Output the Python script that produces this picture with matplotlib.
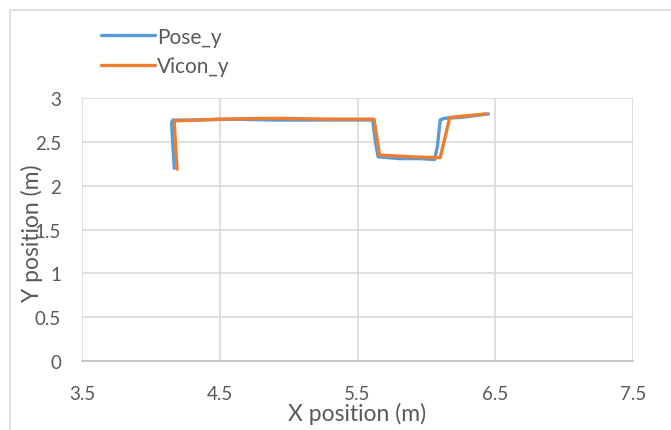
import matplotlib.pyplot as plt
from matplotlib.lines import Line2D

plt.rcParams['font.family'] = ['Lato', 'DejaVu Sans']

# trajectory (metres)
pose_x = [4.17, 4.16, 4.15, 4.16, 4.30, 4.60, 4.90, 5.20, 5.45, 5.61, 5.63, 5.65, 5.80, 5.95, 6.06, 6.08, 6.10, 6.13, 6.25, 6.35, 6.45]
pose_y = [2.20, 2.45, 2.72, 2.75, 2.75, 2.76, 2.75, 2.75, 2.75, 2.75, 2.50, 2.33, 2.31, 2.31, 2.30, 2.45, 2.75, 2.77, 2.78, 2.80, 2.82]
vicon_x = [4.19, 4.18, 4.17, 4.17, 4.50, 4.90, 5.30, 5.62, 5.66, 5.90, 6.10, 6.17, 6.30, 6.43]
vicon_y = [2.19, 2.45, 2.72, 2.74, 2.76, 2.77, 2.76, 2.76, 2.35, 2.33, 2.32, 2.78, 2.80, 2.82]

fig = plt.figure(figsize=(6.71, 4.31), dpi=100)
ax = fig.add_axes([0.1222, 0.160, 0.8212, 0.610])

grid_c = '#D9D9D9'
text_c = '#595959'

ax.plot(pose_x, pose_y, color='#5B9BD5', lw=2.4, label='Pose_y', solid_capstyle='round')
ax.plot(vicon_x, vicon_y, color='#ED7D31', lw=2.4, label='Vicon_y', solid_capstyle='round')

ax.set_xlim(3.5, 7.5)
ax.set_ylim(0, 3)
ax.set_xticks([3.5, 4.5, 5.5, 6.5, 7.5])
ax.set_yticks([0, 0.5, 1, 1.5, 2, 2.5, 3])
ax.set_yticklabels(['0', '0.5', '1', '1.5', '2', '2.5', '3'])
ax.grid(True, color=grid_c, lw=1.2)
ax.set_axisbelow(True)
for s in ['top', 'right', 'left']:
    ax.spines[s].set_visible(False)
ax.spines['bottom'].set_color('#BFBFBF')
ax.spines['bottom'].set_linewidth(1.2)
ax.tick_params(length=0, labelsize=13.5, colors=text_c)
ax.tick_params(axis='y', pad=15)
ax.tick_params(axis='x', pad=17)

ax.set_xlabel('X position (m)', fontsize=16.5, color=text_c)
ax.xaxis.set_label_coords(0.5, -0.155)
ax.set_ylabel('Y position (m)', fontsize=16.5, color=text_c)
ax.yaxis.set_label_coords(-0.071, 0.49)

ax.legend(loc='upper left', bbox_to_anchor=(0.138, 0.955), bbox_transform=fig.transFigure,
          frameon=False, fontsize=15, handlelength=2.6, handletextpad=0.1,
          labelspacing=0.45, labelcolor=text_c, borderaxespad=0)

# outer chart border (left and top visible)
fig.add_artist(Line2D([0.0149, 0.0149], [0.0, 0.9745], color=grid_c, lw=1.2, transform=fig.transFigure))
fig.add_artist(Line2D([0.0149, 1.0], [0.9745, 0.9745], color=grid_c, lw=1.2, transform=fig.transFigure))

fig.savefig('out.png', dpi=100)
